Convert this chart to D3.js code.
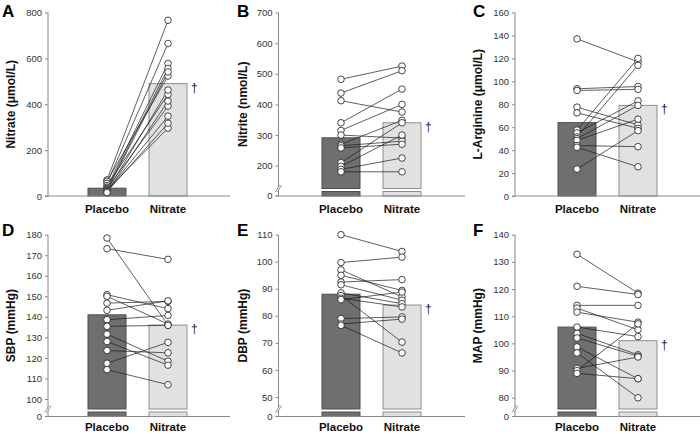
<!DOCTYPE html>
<html><head><meta charset="utf-8">
<script src="https://cdn.jsdelivr.net/npm/d3@7"></script>
<style>body{margin:0;background:#fff} svg{display:block} text{font-family:"Liberation Sans",Arial,sans-serif}</style>
</head><body><svg id="c" width="700" height="434"></svg>
<script>
// ---------- data ----------
const groups = ["Placebo", "Nitrate"];
const panelLetters = ["A", "B", "C", "D", "E", "F"];
const yTitles = ["Nitrate (\u03bcmol/L)", "Nitrite (nmol/L)", "L-Arginine (\u03bcmol/L)", "SBP (mmHg)", "DBP (mmHg)", "MAP (mmHg)"];
const barMeans = [[34, 490], [291, 340], [64, 79], [141, 136], [88, 84], [106, 101]];

const placeboA = [70, 64, 55, 45, 38, 33, 30, 27, 24, 22, 20, 18, 15];
const nitrateA = [766, 523, 665, 443, 578, 392, 556, 296, 541, 348, 462, 317, 414];
const placeboB = [482, 437, 412, 340, 315, 300, 270, 265, 258, 210, 198, 188, 180];
const nitrateB = [525, 510, 375, 450, 400, 290, 348, 280, 270, 340, 300, 225, 180];
const placeboC = [137, 93.5, 92, 77.5, 72.5, 57.5, 55, 51.5, 50, 48.5, 44, 42.5, 23.5];
const nitrateC = [117, 95.5, 93, 62, 59, 120, 83, 114, 79, 67, 43, 25.5, 57];
const placeboD = [178.4, 173.2, 150.8, 150, 146.7, 143.2, 138.6, 135.4, 131.6, 128, 123.6, 117.4, 114.3];
const nitrateD = [136, 168, 144, 136.5, 147.5, 147.8, 140.7, 135.9, 118.4, 116.5, 122.5, 127.6, 107];
const placeboE = [110, 99.7, 97, 95, 92.5, 91.5, 88.5, 87.5, 86.5, 86, 79, 77, 76.5];
const nitrateE = [103.8, 101.7, 87, 89.4, 93.4, 85.8, 84.5, 70.3, 83.3, 88.8, 79.6, 78.8, 66.3];
const placeboF = [132.8, 121, 114, 113, 111.5, 106, 103.7, 102, 98.7, 96.5, 90.8, 90, 89];
const nitrateF = [118.5, 118, 114, 105, 107.8, 102.5, 95.8, 95.3, 87, 80, 95, 107.2, 87];

const yDomains = [[0, 800], [101, 700], [0, 160], [91.5, 180], [42.8, 110], [73.1, 140]];
const yTicks = [
  [0, 200, 400, 600, 800],
  [200, 300, 400, 500, 600, 700],
  [0, 20, 40, 60, 80, 100, 120, 140, 160],
  [100, 110, 120, 130, 140, 150, 160, 170, 180],
  [50, 60, 70, 80, 90, 100, 110],
  [80, 90, 100, 110, 120, 130, 140]
];
const brokenAxis = [false, true, false, true, true, true];

const placeboSets = [placeboA, placeboB, placeboC, placeboD, placeboE, placeboF];
const nitrateSets = [nitrateA, nitrateB, nitrateC, nitrateD, nitrateE, nitrateF];

// ---------- layout ----------
const cols = [{ax: 48, off: 59, end: 230, tx: 11}, {ax: 278.5, off: 62.5, end: 465, tx: 243}, {ax: 515, off: 62, end: 700, tx: 478}];
const rows = [{top: 12.5, base: 196, letterY: 17, labelDy: 17}, {top: 234.7, base: 416.5, letterY: 236, labelDy: 14.5}];
const letterX = [2, 237, 473];
const barW = 38;
const FONT = '"Liberation Sans", Arial, sans-serif';

const svg = d3.select("#c");

panelLetters.forEach((L, i) => {
  const col = cols[i % 3], row = rows[Math.floor(i / 3)];
  const g = svg.append("g");
  const x = d3.scalePoint().domain(groups).range([col.ax + col.off, col.ax + col.off + 61]);
  const y = d3.scaleLinear().domain(yDomains[i]).range([row.base, row.top]);
  const base = row.base;
  const broken = brokenAxis[i];

  // bars
  const fills = ["#6f6f6f", "#e1e1e1"], strokes = ["#4f4f4f", "#8e8e8e"];
  groups.forEach((grp, k) => {
    const v = barMeans[i][k];
    const cx = x(grp);
    if (broken) {
      g.append("rect").attr("x", cx - barW / 2).attr("y", y(v)).attr("width", barW).attr("height", (base - 7.5) - y(v))
        .attr("fill", fills[k]).attr("stroke", strokes[k]).attr("stroke-width", 1);
      g.append("rect").attr("x", cx - barW / 2).attr("y", base - 4.5).attr("width", barW).attr("height", 4.5)
        .attr("fill", fills[k]).attr("stroke", strokes[k]).attr("stroke-width", 1);
    } else {
      g.append("rect").attr("x", cx - barW / 2).attr("y", y(v)).attr("width", barW).attr("height", base - y(v))
        .attr("fill", fills[k]).attr("stroke", strokes[k]).attr("stroke-width", 1);
    }
  });

  // dagger
  g.append("text").attr("x", x("Nitrate") + barW / 2 + 4).attr("y", y(barMeans[i][1]) + 8)
    .attr("font-size", 12).attr("fill", "#222").text("\u2020");

  // x axis line
  g.append("line").attr("x1", col.ax - 3).attr("x2", col.end).attr("y1", base).attr("y2", base)
    .attr("stroke", "#8a8a8a").attr("stroke-width", 1);

  // y axis
  const yAxis = d3.axisLeft(y).tickValues(yTicks[i]).tickSize(3).tickSizeOuter(0).tickFormat(d3.format("d"));
  const ga = g.append("g").attr("transform", `translate(${col.ax},0)`).call(yAxis);
  ga.select(".domain").attr("stroke", "#8a8a8a").attr("d", `M0,${row.top}V${base}`);
  ga.selectAll(".tick line").attr("stroke", "#8a8a8a");
  ga.selectAll(".tick text").attr("font-size", 9.5).attr("font-family", FONT).attr("fill", "#333").attr("x", -6);
  if (broken) {
    g.append("line").attr("x1", col.ax - 3).attr("x2", col.ax).attr("y1", base).attr("y2", base).attr("stroke", "#8a8a8a");
    g.append("text").attr("x", col.ax - 6).attr("y", base).attr("dy", "0.32em").attr("text-anchor", "end")
      .attr("font-size", 9.5).attr("fill", "#333").text("0");
    const by = base - 7;
    g.append("polygon").attr("points", `${col.ax - 3},${by + 3} ${col.ax + 1},${by - 4} ${col.ax + 3},${by - 4} ${col.ax - 1},${by + 3}`)
      .attr("fill", "#fff");
    g.append("line").attr("x1", col.ax - 3).attr("y1", by + 3).attr("x2", col.ax + 1).attr("y2", by - 4).attr("stroke", "#777").attr("stroke-width", 0.8);
    g.append("line").attr("x1", col.ax - 1).attr("y1", by + 3).attr("x2", col.ax + 3).attr("y2", by - 4).attr("stroke", "#777").attr("stroke-width", 0.8);
  }

  // paired lines
  const P = placeboSets[i], N = nitrateSets[i];
  const pairs = P.map((p, j) => [p, N[j]]);
  g.selectAll("line.pair").data(pairs).enter().append("line").attr("class", "pair")
    .attr("x1", x("Placebo")).attr("x2", x("Nitrate"))
    .attr("y1", d => y(d[0])).attr("y2", d => y(d[1]))
    .attr("stroke", "#1a1a1a").attr("stroke-width", 0.7);
  [["Placebo", P], ["Nitrate", N]].forEach(([grp, arr]) => {
    g.selectAll(null).data(arr).enter().append("circle")
      .attr("cx", x(grp)).attr("cy", d => y(d)).attr("r", 3.3)
      .attr("fill", "#fff").attr("stroke", "#1a1a1a").attr("stroke-width", 0.8);
  });

  // x labels
  groups.forEach(grp => {
    g.append("text").attr("x", x(grp)).attr("y", base + row.labelDy).attr("text-anchor", "middle")
      .attr("font-size", 11.5).attr("font-weight", "bold").attr("fill", "#111").text(grp);
  });

  // y title
  const midY = (row.top + base) / 2;
  g.append("text").attr("transform", `translate(${col.tx},${midY}) rotate(-90)`)
    .attr("text-anchor", "middle").attr("dy", "0.35em")
    .attr("font-size", 12).attr("font-weight", "bold").attr("fill", "#111").text(yTitles[i]);

  // panel letter
  g.append("text").attr("x", letterX[i % 3]).attr("y", row.letterY)
    .attr("font-size", 17).attr("font-weight", "bold").attr("fill", "#000").text(L);
});
</script></body></html>
